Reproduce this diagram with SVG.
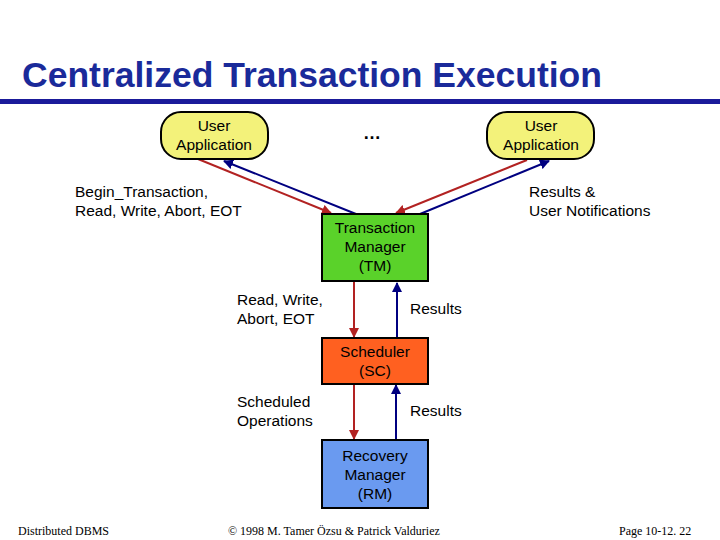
<svg xmlns="http://www.w3.org/2000/svg" width="720" height="540" viewBox="0 0 720 540">
<style>
text{font-family:"Liberation Sans",Arial,sans-serif;font-size:15.5px;fill:#000}
.b{text-anchor:middle}
.f{font-family:"Liberation Serif","Times New Roman",serif;font-size:12px}
.r{stroke:#b22222;stroke-width:2;fill:none}
.u{stroke:#000080;stroke-width:2;fill:none}
.box{stroke:#000;stroke-width:2}
</style>
<defs>
<marker id="mr" viewBox="0 0 10 10" refX="9" refY="5" markerWidth="5" markerHeight="5" orient="auto"><path d="M0,0L10,5L0,10z" fill="#b22222"/></marker>
<marker id="mb" viewBox="0 0 10 10" refX="9" refY="5" markerWidth="5" markerHeight="5" orient="auto"><path d="M0,0L10,5L0,10z" fill="#000080"/></marker>
</defs>
<rect width="720" height="540" fill="#fff"/>
<text x="22" y="87" style="font-size:35.5px;font-weight:bold;fill:#1a2a9a">Centralized Transaction Execution</text>
<rect x="0" y="99" width="720" height="5" fill="#1a1a9a"/>
<g id="conn">
<line class="r" x1="198" y1="159" x2="331" y2="213" marker-end="url(#mr)"/>
<line class="u" x1="356" y1="214" x2="224" y2="161" marker-end="url(#mb)"/>
<line class="r" x1="527" y1="160" x2="396" y2="213" marker-end="url(#mr)"/>
<line class="u" x1="420" y1="214" x2="549" y2="161" marker-end="url(#mb)"/>
<line class="r" x1="354" y1="282" x2="354" y2="337" marker-end="url(#mr)"/>
<line class="u" x1="397" y1="338" x2="397" y2="283" marker-end="url(#mb)"/>
<line class="r" x1="354" y1="384" x2="354" y2="439" marker-end="url(#mr)"/>
<line class="u" x1="396" y1="440" x2="396" y2="385" marker-end="url(#mb)"/>
</g>
<g id="ua1"><rect class="box" x="161" y="112" width="107" height="47" rx="20" fill="#f3f27a"/>
<text class="b" x="214" y="131">User</text><text class="b" x="214" y="150">Application</text></g>
<g id="ua2"><rect class="box" x="487" y="112" width="107" height="47" rx="20" fill="#f3f27a"/>
<text class="b" x="541" y="131">User</text><text class="b" x="541" y="150">Application</text></g>
<text class="b" x="372" y="139" style="font-weight:bold;font-size:18px">…</text>
<g id="tm"><rect class="box" x="322" y="214" width="106" height="67" fill="#5ad22a"/>
<text class="b" x="375" y="233">Transaction</text><text class="b" x="375" y="252">Manager</text><text class="b" x="375" y="271">(TM)</text></g>
<g id="sc"><rect class="box" x="322" y="338" width="106" height="46" fill="#ff6020"/>
<text class="b" x="375" y="357">Scheduler</text><text class="b" x="375" y="376">(SC)</text></g>
<g id="rm"><rect class="box" x="322" y="440" width="106" height="68" fill="#6a9af0"/>
<text class="b" x="375" y="461">Recovery</text><text class="b" x="375" y="480">Manager</text><text class="b" x="375" y="499">(RM)</text></g>
<text x="75" y="197">Begin_Transaction,</text><text x="75" y="216">Read, Write, Abort, EOT</text>
<text x="529" y="197">Results &amp;</text><text x="529" y="216">User Notifications</text>
<text x="237" y="305">Read, Write,</text><text x="237" y="324">Abort, EOT</text>
<text x="410" y="314">Results</text>
<text x="237" y="407">Scheduled</text><text x="237" y="426">Operations</text>
<text x="410" y="416">Results</text>
<text class="f" x="18" y="535">Distributed DBMS</text>
<text class="f" x="228" y="535">© 1998 M. Tamer Özsu &amp; Patrick Valduriez</text>
<text class="f" x="619" y="535">Page 10-12. 22</text>
</svg>
